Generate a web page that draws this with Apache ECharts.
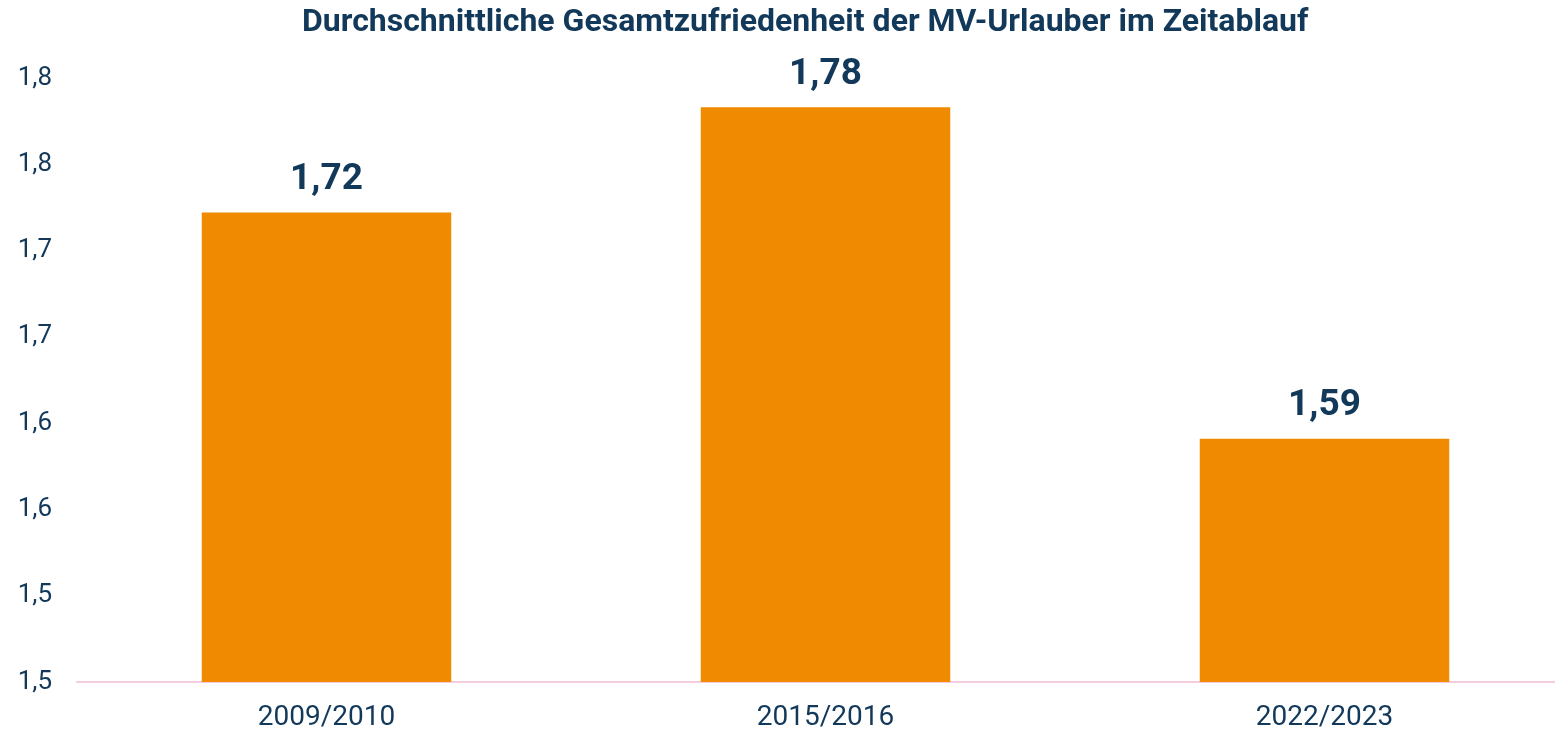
<!DOCTYPE html>
<html>
<head>
<meta charset="utf-8">
<script src="https://cdn.jsdelivr.net/npm/echarts@6/dist/echarts.min.js"></script>
<style>
html,body{margin:0;padding:0;background:#fff;overflow:hidden;width:1555px;height:734px;}
#chart{width:1574px;height:734px;}
</style>
</head>
<body>
<div id="chart"></div>
<script>
const categories = ['2009/2010', '2015/2016', '2022/2023'];
const values = [1.722, 1.783, 1.591];
const yMin = 1.45, yMax = 1.80, yInterval = 0.05;
const titleText = 'Durchschnittliche Gesamtzufriedenheit der MV-Urlauber im Zeitablauf';

const navy = '#12385a';
const chart = echarts.init(document.getElementById('chart'));
chart.setOption({
  backgroundColor: '#ffffff',
  title: {
    text: titleText,
    left: 297,
    top: 2,
    textStyle: {fontFamily: 'Roboto', fontWeight: 'bold', fontSize: 32, color: navy}
  },
  grid: {left: 77, right: 0, top: 78, bottom: 52, containLabel: false},
  xAxis: {
    type: 'category',
    data: categories,
    axisLine: {show: true, lineStyle: {color: '#f3cddd', width: 2}},
    axisTick: {show: false},
    axisLabel: {fontFamily: 'Roboto', fontSize: 28, color: navy, margin: 22}
  },
  yAxis: {
    type: 'value',
    min: yMin, max: yMax, interval: yInterval,
    axisLine: {show: false},
    axisTick: {show: false},
    splitLine: {show: false},
    axisLabel: {
      fontFamily: 'Roboto', fontSize: 26, color: navy, margin: 25,
      formatter: v => {
        const c = Math.round(v * 100);
        return (Math.round(c / 10) / 10).toFixed(1).replace('.', ',');
      }
    }
  },
  series: [{
    type: 'bar',
    data: values,
    barWidth: '50%',
    itemStyle: {color: '#f08a00'},
    label: {
      show: true, position: 'top', distance: 14,
      fontFamily: 'Roboto', fontWeight: 'bold', fontSize: 37, color: navy,
      formatter: p => p.value.toFixed(2).replace('.', ',')
    }
  }],
  animation: false
});
</script>
</body>
</html>
